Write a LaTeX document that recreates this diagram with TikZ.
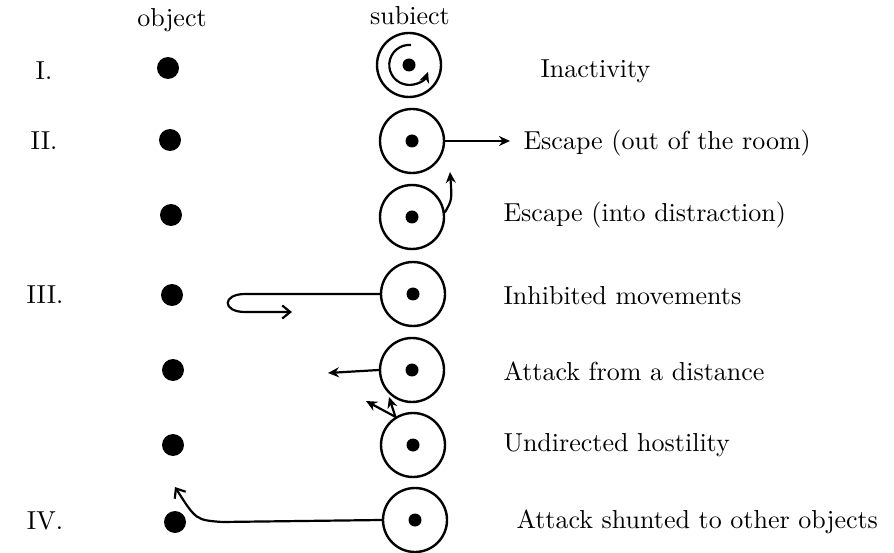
\documentclass[tikz,border=0pt]{standalone}
\usepackage{fontspec}
\setmainfont{lmroman10-regular.otf}
\usepackage{tikz}
\usetikzlibrary{arrows.meta,calc}

\begin{document}
\begin{tikzpicture}[x=1pt,y=-1pt,
  obj/.style={circle,fill=black,inner sep=0pt,minimum size=22pt},
  subj/.style={circle,draw,line width=2.4pt,inner sep=0pt,minimum size=64pt},
  core/.style={circle,fill=black,inner sep=0pt,minimum size=13pt},
  lbl/.style={anchor=base west,font=\fontsize{26}{30}\selectfont},
  num/.style={anchor=base,font=\fontsize{26}{30}\selectfont},
  head/.style={anchor=base,font=\fontsize{26}{30}\selectfont},
  act/.style={line width=2.2pt,-{Stealth[length=11pt,width=10pt]}},
  barb/.style={line width=2.2pt,-{Straight Barb[length=8pt,width=13pt]}}]

  % Parameters
  \def\r{20}          % radius of the spiral in the first subject

  \useasboundingbox (0,0) rectangle (894,553);

  % Draw objects and subjects, row by row
  \foreach \i/\ox/\oy/\sx/\sy in {1/168/68/409/65, 2/170/140/412/141,
      3/171/215/412/217, 4/172/295/413/294, 5/173/370/412/370,
      6/173/445/413/445, 7/175/522/415/520} {
    \node[obj] (o\i) at (\ox,\oy) {};
    \node[subj] (s\i) at (\sx,\sy) {};
    \node[core] (c\i) at (s\i) {};
  }

  % Headings and numerals
  \node[head] (tobj) at (172,27) {object};
  \node[head] (tsubj) at (410,25) {subiect};
  \node[num] (n1) at (44,80) {I.};
  \node[num] (n2) at (44,150) {II.};
  \node[num] (n3) at (45,304) {III.};
  \node[num] (n4) at (45,529) {IV.};

  % Free ends of the arrows
  \coordinate (e2) at (510,141);
  \coordinate (e3) at (450,172);
  \coordinate (e4) at (292,312);
  \coordinate (e5) at (328,373);
  \coordinate (e6a) at (389,397);
  \coordinate (e6b) at (366,401);
  \coordinate (e7) at (175,487);

  % Arrows
  \draw[act] ($(s1)+(2,-\r)$) arc[start angle=-85,end angle=-340,radius=\r];
  \draw[act] (s2.east) -- (e2);
  \draw[act] (s3.8) .. controls (452,200) .. (e3);
  \draw[barb] (s4.west) -- (245,294) .. controls (222,294) and (222,312) .. (245,312) -- (e4);
  \draw[act] (s5.west) -- (e5);
  \draw[act] (s6.122) -- (e6a);
  \draw[act] (s6.122) -- (e6b);
  \draw[barb] (s7.west) -- (222,522) .. controls (196,520) .. (e7);

  % Labels
  \node[lbl] (l1) at (537,78) {Inactivity};
  \node[lbl] (l2) at (520,150) {Escape (out of the room)};
  \node[lbl] (l3) at (500,222) {Escape (into distraction)};
  \node[lbl] (l4) at (500,305) {Inhibited movements};
  \node[lbl] (l5) at (500,380) {Attack from a distance};
  \node[lbl] (l6) at (500,451) {Undirected hostility};
  \node[lbl] (l7) at (513,528) {Attack shunted to other objects};

\end{tikzpicture}
\end{document}
